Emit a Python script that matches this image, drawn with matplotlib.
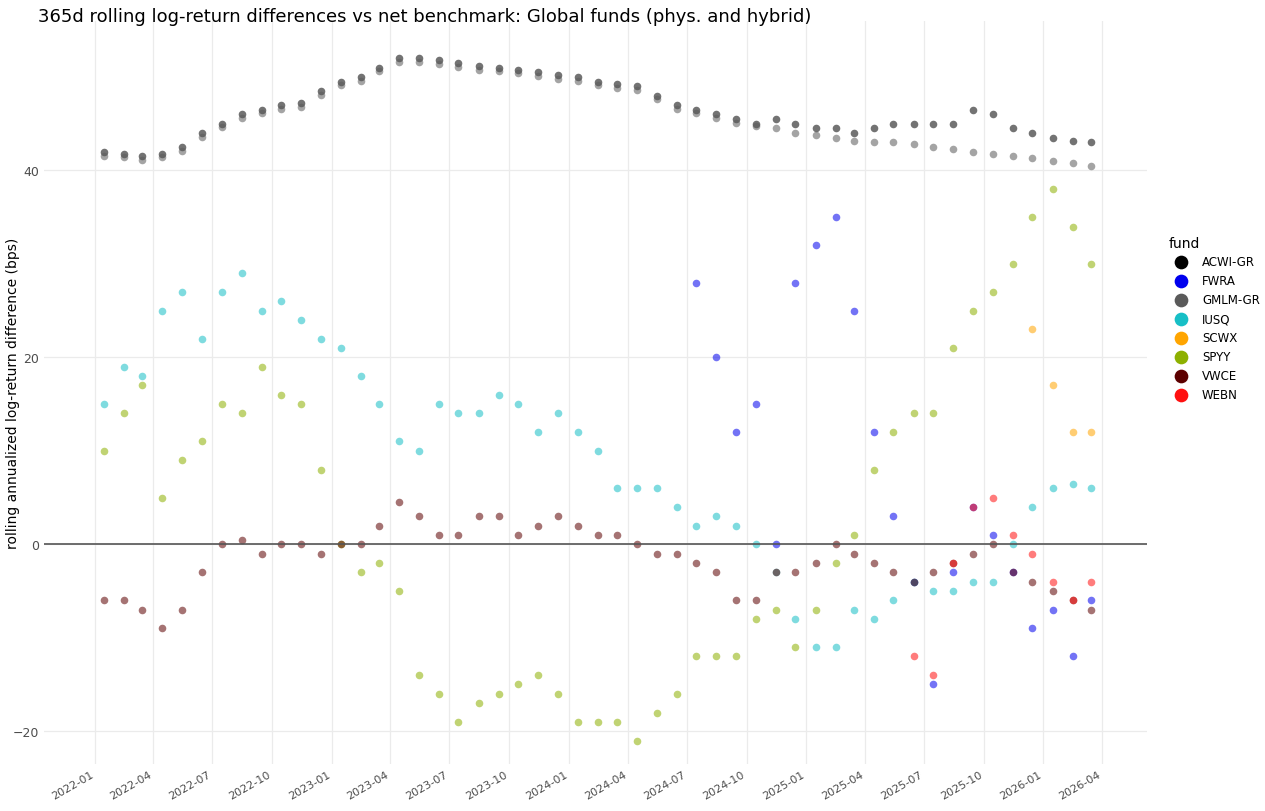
import matplotlib.pyplot as plt
import pandas as pd

"""

    Rolling log-return differences of global funds against the net benchmark.

"""

def month_dates(start : str, n : int):
    return pd.date_range(start, periods=n, freq="MS") + pd.Timedelta(days=14)

def __main__():
    funds = {
        "ACWI-GR": ("#000000", "2022-01-01", [
            42, 41.8, 41.5, 41.8, 42.5, 44, 45, 46, 46.5, 47, 47.2, 48.5,
            49.5, 50, 51, 52, 52, 51.8, 51.5, 51.2, 51, 50.8, 50.5, 50.2,
            50, 49.5, 49.2, 49, 48, 47, 46.5, 46, 45.5, 45, 45.5, 45,
            44.5, 44.5, 44, 44.5, 45, 45, 45, 45, 46.5, 46, 44.5, 44,
            43.5, 43.2, 43]),
        "FWRA": ("#0000ee", "2024-07-01", [
            28, 20, 12, 15, 0, 28, 32, 35, 25, 12, 3, -4, -15, -3, 4, 1,
            -3, -9, -7, -12, -6]),
        "GMLM-GR": ("#5a5a5a", "2022-01-01", [
            41.6, 41.4, 41.1, 41.4, 42.1, 43.6, 44.6, 45.6, 46.1, 46.6, 46.8, 48.1,
            49.1, 49.6, 50.6, 51.6, 51.6, 51.4, 51.1, 50.8, 50.6, 50.4, 50.1, 49.8,
            49.6, 49.1, 48.8, 48.6, 47.6, 46.6, 46.1, 45.6, 45.1,
            44.8, 44.5, 44, 43.8, 43.5, 43.2, 43, 43, 42.8, 42.5, 42.3, 42,
            41.8, 41.5, 41.3, 41, 40.8, 40.5]),
        "IUSQ": ("#17bfc6", "2022-01-01", [
            15, 19, 18, 25, 27, 22, 27, 29, 25, 26, 24, 22,
            21, 18, 15, 11, 10, 15, 14, 14, 16, 15, 12, 14,
            12, 10, 6, 6, 6, 4, 2, 3, 2, 0, -3, -8,
            -11, -11, -7, -8, -6, -4, -5, -5, -4, -4, 0, 4,
            6, 6.5, 6]),
        "SCWX": ("#ffa500", "2025-12-01", [23, 17, 12, 12]),
        "SPYY": ("#8db000", "2022-01-01", [
            10, 14, 17, 5, 9, 11, 15, 14, 19, 16, 15, 8,
            0, -3, -2, -5, -14, -16, -19, -17, -16, -15, -14, -16,
            -19, -19, -19, -21, -18, -16, -12, -12, -12, -8, -7, -11,
            -7, -2, 1, 8, 12, 14, 14, 21, 25, 27, 30, 35,
            38, 34, 30]),
        "VWCE": ("#5c0000", "2022-01-01", [
            -6, -6, -7, -9, -7, -3, 0, 0.5, -1, 0, 0, -1,
            0, 0, 2, 4.5, 3, 1, 1, 3, 3, 1, 2, 3,
            2, 1, 1, 0, -1, -1, -2, -3, -6, -6, -3, -3,
            -2, 0, -1, -2, -3, -4, -3, -2, -1, 0, -3, -4,
            -5, -6, -7]),
        "WEBN": ("#ff1010", "2025-06-01", [-12, -14, -2, 4, 5, 1, -1, -4, -6, -4]),
    }

    plt.figure(figsize=(12.65, 8.12), dpi=100)
    ax = plt.axes([0.035, 0.058, 0.872, 0.915])
    for name, (color, start, values) in funds.items():
        plt.scatter(month_dates(start, len(values)), values, c=color, s=30, alpha=0.55,
                    linewidths=0, label=name)
    plt.axhline(0, color="#555555", linewidth=1.2)
    plt.ylim(-23.5, 56)
    plt.xlim(pd.Timestamp("2021-10-15"), pd.Timestamp("2026-06-10"))
    plt.yticks([-20, 0, 20, 40])
    ticks = pd.date_range("2022-01-01", "2026-04-01", freq="3MS")
    plt.xticks(ticks, [d.strftime("%Y-%m") for d in ticks],
               rotation=30, ha="right", fontsize=8, color="#4d4d4d")
    plt.tick_params(axis="y", labelsize=9, labelcolor="#4d4d4d", length=0)
    plt.tick_params(axis="x", length=0)
    for s in ax.spines.values(): s.set_visible(False)
    plt.grid(True, color="#ebebeb", linewidth=0.9)
    ax.set_axisbelow(True)
    plt.ylabel("rolling annualized log-return difference (bps)", fontsize=10)
    ax.yaxis.set_label_coords(-0.022, 0.5)
    plt.figtext(0.03, 0.99, "365d rolling log-return differences vs net benchmark: Global funds (phys. and hybrid)",
                fontsize=13, va="top")
    leg = plt.legend(title="fund", loc="center left", bbox_to_anchor=(1.01, 0.6), frameon=False,
                     fontsize=8.5, title_fontsize=10, markerscale=1.8, alignment="left")
    for h in leg.legend_handles: h.set_alpha(1)
    plt.savefig("out.png", dpi=100)

if __name__ == "__main__": __main__()
